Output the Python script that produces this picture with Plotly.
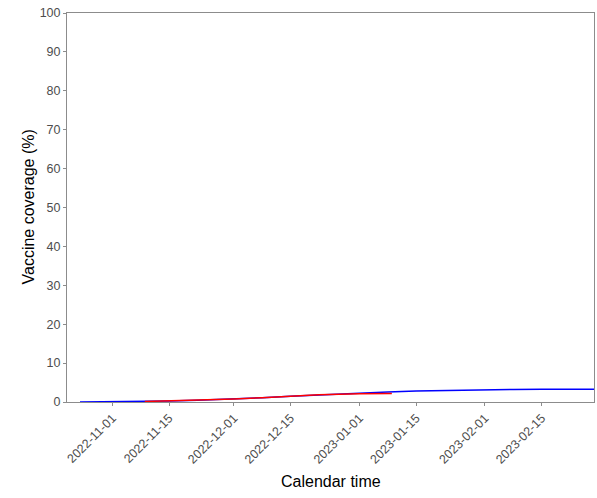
import plotly.graph_objects as go

blue_dates = ["2022-10-24", "2022-11-01", "2022-11-08", "2022-11-15", "2022-11-22",
              "2022-12-01", "2022-12-08", "2022-12-15", "2022-12-22", "2023-01-01",
              "2023-01-08", "2023-01-15", "2023-01-22", "2023-02-01", "2023-02-08",
              "2023-02-15", "2023-02-28"]
blue_values = [0.0, 0.05, 0.12, 0.25, 0.45, 0.75, 1.1, 1.5, 1.85, 2.3, 2.6, 2.85,
               3.0, 3.15, 3.2, 3.25, 3.3]

red_dates = ["2022-11-09", "2022-11-15", "2022-11-22", "2022-12-01", "2022-12-08",
             "2022-12-15", "2022-12-22", "2023-01-01", "2023-01-09"]
red_values = [0.13, 0.26, 0.47, 0.78, 1.12, 1.5, 1.85, 2.15, 2.2]

tick_dates = ["2022-11-01", "2022-11-15", "2022-12-01", "2022-12-15",
              "2023-01-01", "2023-01-15", "2023-02-01", "2023-02-15"]
y_ticks = list(range(0, 101, 10))

FONT = "Liberation Sans, Arial, sans-serif"

fig = go.Figure()
fig.add_trace(go.Scatter(x=blue_dates, y=blue_values, mode="lines",
                         line=dict(color="#0000FF", width=1.5), showlegend=False))
fig.add_trace(go.Scatter(x=red_dates, y=red_values, mode="lines",
                         line=dict(color="#FF0000", width=1.5), showlegend=False))

axis_common = dict(showline=True, linecolor="#8c8c8c", linewidth=1, mirror=True,
                   showgrid=False, zeroline=False, ticks="outside", ticklen=3,
                   tickcolor="#8c8c8c", automargin=False,
                   tickfont=dict(family=FONT, size=12.5, color="#4d4d4d"))

fig.update_layout(
    width=597, height=498,
    margin=dict(l=67, r=3, t=13, b=96),
    plot_bgcolor="white", paper_bgcolor="white",
    xaxis=dict(range=["2022-10-20 19:00", "2023-02-27 22:00"],
               tickvals=tick_dates, ticktext=tick_dates, tickangle=-45,
               **axis_common),
    yaxis=dict(range=[0, 100], tickvals=y_ticks, **axis_common),
    annotations=[
        dict(text="Calendar time", xref="paper", yref="paper", x=0.5, y=0,
             xanchor="center", yanchor="middle", yshift=-79, showarrow=False,
             font=dict(family=FONT, size=16, color="black")),
        dict(text="Vaccine coverage (%)", xref="paper", yref="paper", x=0, y=0.5,
             xanchor="center", yanchor="middle", xshift=-39, textangle=-90,
             showarrow=False, font=dict(family=FONT, size=16, color="black")),
    ],
)

fig.write_html("out.html", config={"displayModeBar": False},
               post_script="document.body.style.margin='0';document.body.style.padding='0';")
